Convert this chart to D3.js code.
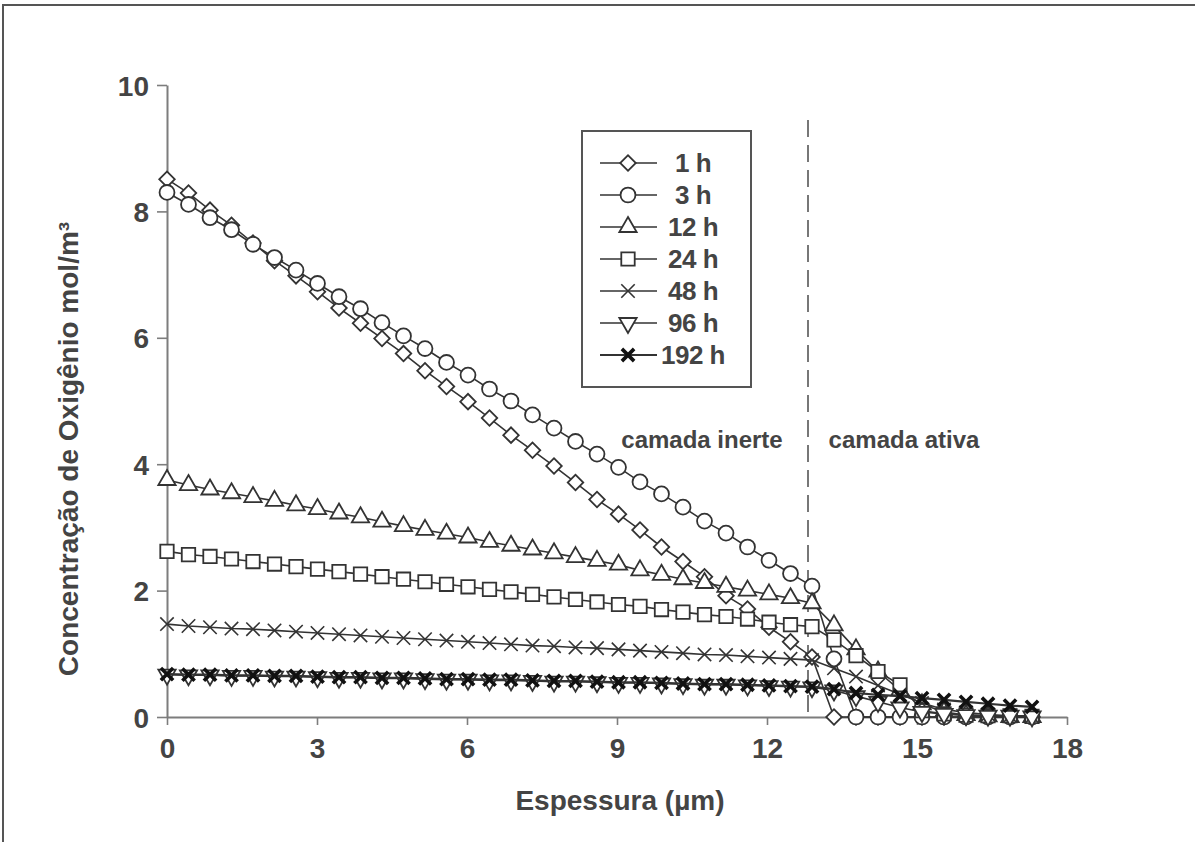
<!DOCTYPE html>
<html>
<head>
<meta charset="utf-8">
<script src="https://cdn.jsdelivr.net/npm/d3@7"></script>
<style>
  body { margin: 0; background: #fff; }
  svg text { font-family: "Liberation Sans", Arial, sans-serif; fill: #444; }
</style>
</head>
<body>
<svg class="chart" width="1195" height="842"></svg>
<script>
// espessura (um)
var thickness = [0.00, 0.43, 0.86, 1.29, 1.72, 2.15, 2.58, 3.01, 3.44, 3.87, 4.30, 4.73, 5.16, 5.59, 6.02, 6.45,
    6.88, 7.31, 7.74, 8.17, 8.60, 9.03, 9.46, 9.89, 10.32, 10.75, 11.18, 11.61, 12.04, 12.47, 12.90,
    13.34, 13.78, 14.22, 14.66, 15.10, 15.54, 15.98, 16.42, 16.86, 17.30];

var h1 = [8.51, 8.29, 8.02, 7.78, 7.50, 7.22, 6.98, 6.73, 6.47, 6.23, 5.99, 5.75, 5.48, 5.23, 4.99, 4.73,
    4.46, 4.22, 3.97, 3.71, 3.44, 3.21, 2.96, 2.69, 2.46, 2.22, 1.92, 1.71, 1.42, 1.19, 0.95,
    0, 0, 0, 0, 0, 0, 0, 0, 0, 0];
var h3 = [8.30, 8.11, 7.90, 7.71, 7.48, 7.27, 7.07, 6.86, 6.65, 6.46, 6.24, 6.03, 5.83, 5.61, 5.41, 5.19,
    5.00, 4.78, 4.57, 4.36, 4.16, 3.95, 3.72, 3.53, 3.32, 3.10, 2.91, 2.69, 2.48, 2.27, 2.07,
    0.92, 0, 0, 0, 0, 0, 0, 0, 0, 0];
var h12 = [3.75, 3.67, 3.60, 3.54, 3.48, 3.42, 3.35, 3.29, 3.22, 3.16, 3.09, 3.02, 2.96, 2.90, 2.84, 2.77,
    2.71, 2.65, 2.59, 2.53, 2.47, 2.41, 2.32, 2.25, 2.18, 2.12, 2.06, 2.00, 1.94, 1.88, 1.80,
    1.45, 1.07, 0.72, 0.42, 0.20, 0.08, 0.03, 0.01, 0, 0];
var h24 = [2.62, 2.57, 2.54, 2.50, 2.46, 2.42, 2.38, 2.34, 2.30, 2.26, 2.22, 2.18, 2.14, 2.10, 2.06, 2.02,
    1.98, 1.94, 1.90, 1.86, 1.82, 1.78, 1.75, 1.70, 1.66, 1.62, 1.59, 1.55, 1.50, 1.46, 1.43,
    1.22, 0.97, 0.72, 0.51, 0.10, 0.05, 0.03, 0.02, 0.02, 0.01];
var h48 = [1.47, 1.44, 1.42, 1.40, 1.39, 1.37, 1.35, 1.33, 1.31, 1.29, 1.27, 1.25, 1.23, 1.21, 1.19, 1.17,
    1.15, 1.13, 1.12, 1.10, 1.09, 1.07, 1.05, 1.03, 1.01, 0.99, 0.98, 0.96, 0.94, 0.92, 0.90,
    0.77, 0.64, 0.50, 0.36, 0.22, 0.12, 0.07, 0.04, 0.02, 0.01];
var h96 = [0.67, 0.66, 0.66, 0.65, 0.65, 0.64, 0.64, 0.63, 0.62, 0.62, 0.61, 0.61, 0.60, 0.59, 0.59, 0.58,
    0.58, 0.57, 0.56, 0.56, 0.55, 0.54, 0.54, 0.53, 0.52, 0.51, 0.51, 0.50, 0.49, 0.48, 0.47,
    0.42, 0.33, 0.24, 0.15, 0.08, 0.05, 0.03, 0.02, 0.02, 0.01];
var h192 = [0.68, 0.67, 0.67, 0.66, 0.66, 0.65, 0.65, 0.64, 0.63, 0.63, 0.62, 0.62, 0.61, 0.60, 0.60, 0.59,
    0.59, 0.58, 0.57, 0.57, 0.56, 0.55, 0.55, 0.54, 0.53, 0.52, 0.52, 0.51, 0.50, 0.49, 0.48,
    0.44, 0.38, 0.35, 0.33, 0.30, 0.27, 0.24, 0.21, 0.18, 0.16];

var seriesNames = ['1 h', '3 h', '12 h', '24 h', '48 h', '96 h', '192 h'];
var seriesValues = [h1, h3, h12, h24, h48, h96, h192];
var xTicks = [0, 3, 6, 9, 12, 15, 18];
var yTicks = [0, 2, 4, 6, 8, 10];
var layerBoundary = 12.82;

// marker for each series
var xMark = {
    draw: function(ctx, size){
        var r = Math.sqrt(size) / 2;
        ctx.moveTo(-r, -r); ctx.lineTo(r, r);
        ctx.moveTo(-r, r); ctx.lineTo(r, -r);
    }
};
var markers = [
    {type: d3.symbolSquare, size: 120, rotate: 45, fill: '#fff', width: 1.8},
    {type: d3.symbolCircle, size: 175, rotate: 0, fill: '#fff', width: 1.8},
    {type: d3.symbolTriangle, size: 130, rotate: 0, fill: '#fff', width: 1.8},
    {type: d3.symbolSquare, size: 180, rotate: 0, fill: '#fff', width: 1.8},
    {type: xMark, size: 180, rotate: 0, fill: 'none', width: 1.6},
    {type: d3.symbolTriangle, size: 130, rotate: 180, fill: '#fff', width: 1.8},
    {type: xMark, size: 150, rotate: 0, fill: 'none', width: 3.6}
];

var svg = d3.select('.chart');

svg.append('rect').attr('width', 1195).attr('height', 842).attr('fill', '#fff');

// frame left over from the page crop
svg.append('path')
    .attr('d', 'M3,842V5H1195')
    .attr('fill', 'none')
    .attr('stroke', '#555')
    .attr('stroke-width', 2);

var x = d3.scaleLinear().domain([0, 18]).range([167, 1067]);
var y = d3.scaleLinear().domain([0, 10]).range([717, 85]);

var axisColor = '#7d7d7d';

var gx = svg.append('g')
    .attr('transform', 'translate(0,' + y(0) + ')')
    .call(d3.axisBottom(x).tickValues(xTicks).tickSize(8).tickSizeOuter(0).tickPadding(13));

var gy = svg.append('g')
    .attr('transform', 'translate(' + x(0) + ',0)')
    .call(d3.axisLeft(y).tickValues(yTicks).tickSize(10).tickSizeOuter(0).tickPadding(8));

[gx, gy].forEach(function(g){
    g.select('.domain').attr('stroke', axisColor).attr('stroke-width', 2);
    g.selectAll('.tick line').attr('stroke', axisColor).attr('stroke-width', 1.6);
    g.selectAll('.tick text')
        .style('font-family', '"Liberation Sans", Arial, sans-serif')
        .style('font-size', '28px')
        .style('font-weight', 'bold')
        .attr('fill', '#444');
});
gx.selectAll('.tick text').attr('dy', '0.71em');
gy.selectAll('.tick text').attr('dy', '0.36em');

// boundary between layers
svg.append('line')
    .attr('x1', x(layerBoundary)).attr('x2', x(layerBoundary))
    .attr('y1', 120).attr('y2', y(0))
    .attr('stroke', '#777')
    .attr('stroke-width', 2)
    .attr('stroke-dasharray', '17,8');

svg.append('text')
    .attr('x', 702).attr('y', 448)
    .attr('text-anchor', 'middle')
    .style('font-size', '24px').style('font-weight', 'bold')
    .text('camada inerte');

svg.append('text')
    .attr('x', 904).attr('y', 448)
    .attr('text-anchor', 'middle')
    .style('font-size', '24px').style('font-weight', 'bold')
    .text('camada ativa');

// series
var line = d3.line()
    .x(function(d){ return x(d[0]); })
    .y(function(d){ return y(d[1]); });

var series = svg.append('g').selectAll('g.series')
    .data(seriesValues.map(function(vals, k){
        return {k: k, points: thickness.map(function(t, i){ return [t, vals[i]]; })};
    }))
    .enter().append('g').classed('series', true);

series.append('path')
    .attr('d', function(d){ return line(d.points); })
    .attr('fill', 'none')
    .attr('stroke', '#333')
    .attr('stroke-width', function(d){ return d.k === 6 ? 2.2 : 1.6; });

series.selectAll('path.mark')
    .data(function(d){ return d.points.map(function(p){ return {k: d.k, p: p}; }); })
    .enter().append('path').classed('mark', true)
    .attr('d', function(d){ return d3.symbol().type(markers[d.k].type).size(markers[d.k].size)(); })
    .attr('transform', function(d){
        return 'translate(' + x(d.p[0]) + ',' + y(d.p[1]) + ') rotate(' + markers[d.k].rotate + ')';
    })
    .attr('fill', function(d){ return markers[d.k].fill; })
    .attr('stroke', function(d){ return d.k === 6 ? '#111' : '#333'; })
    .attr('stroke-width', function(d){ return markers[d.k].width; });

// legend
var legend = svg.append('g');

legend.append('rect')
    .attr('x', 582).attr('y', 131)
    .attr('width', 169).attr('height', 256)
    .attr('fill', '#fff')
    .attr('stroke', '#555')
    .attr('stroke-width', 2);

var rows = legend.selectAll('g.row')
    .data(seriesNames)
    .enter().append('g').classed('row', true)
    .attr('transform', function(d, i){ return 'translate(0,' + (163 + i * 32) + ')'; });

rows.append('line')
    .attr('x1', 600).attr('x2', 657)
    .attr('stroke', '#333')
    .attr('stroke-width', function(d, i){ return i === 6 ? 2.2 : 1.6; });

rows.append('path')
    .attr('d', function(d, i){ return d3.symbol().type(markers[i].type).size(markers[i].size)(); })
    .attr('transform', function(d, i){ return 'translate(628,0) rotate(' + markers[i].rotate + ')'; })
    .attr('fill', function(d, i){ return markers[i].fill; })
    .attr('stroke', function(d, i){ return i === 6 ? '#111' : '#333'; })
    .attr('stroke-width', function(d, i){ return markers[i].width; });

rows.append('text')
    .attr('x', 693).attr('dy', '0.36em')
    .attr('text-anchor', 'middle')
    .style('font-size', '26px').style('font-weight', 'bold')
    .style('letter-spacing', '-0.5px')
    .text(function(d){ return d; });

// axis titles
svg.append('text')
    .attr('x', 620).attr('y', 810)
    .attr('text-anchor', 'middle')
    .style('font-size', '28px').style('font-weight', 'bold')
    .text('Espessura (µm)');

svg.append('text')
    .attr('transform', 'translate(78,449) rotate(-90)')
    .attr('text-anchor', 'middle')
    .style('font-size', '28px').style('font-weight', 'bold')
    .text('Concentração de Oxigênio mol/m³');
</script>
</body>
</html>
